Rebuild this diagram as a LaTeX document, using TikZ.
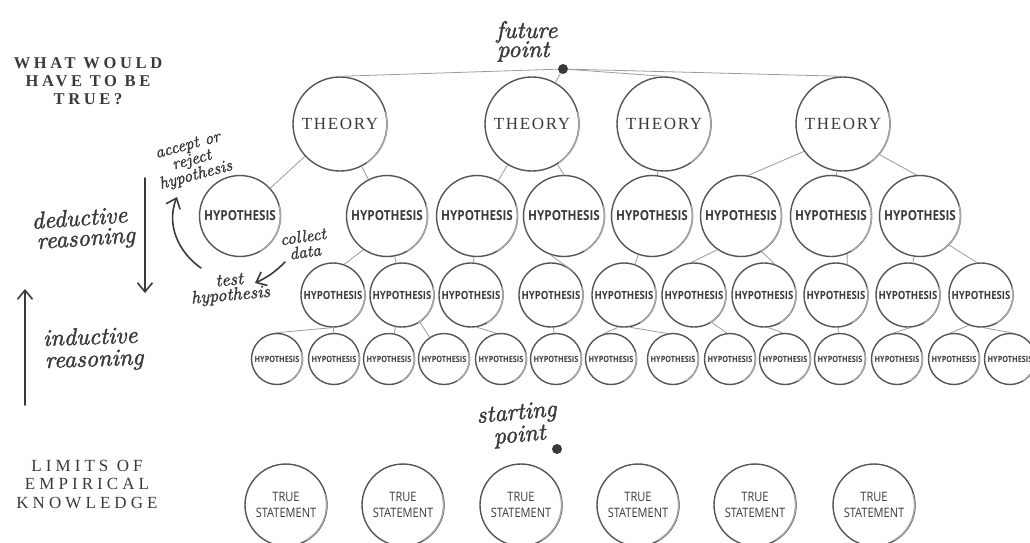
\documentclass[tikz,border=0pt]{standalone}
\usepackage{fontspec}
\usetikzlibrary{arrows.meta}

% Fonts: spaced serif capitals, a condensed sans for the circles, a heavier italic for the notes
\newfontfamily\titlefont[LetterSpace=22]{Liberation Serif}
\newfontfamily\limitsfont[LetterSpace=24]{Liberation Serif}
\newfontfamily\theoryfont[LetterSpace=10]{Liberation Serif}
\newfontfamily\condfont[FakeStretch=0.85]{Open Sans}
\newfontfamily\handfont{lmroman10-italic}[Extension=.otf, FakeBold=1.6]

\definecolor{ink}{HTML}{3A3A3A}
\definecolor{ringc}{HTML}{555555}
\definecolor{sheenc}{HTML}{A8A8A8}
\definecolor{linkc}{HTML}{9C9C9C}

\begin{document}
\begin{tikzpicture}[x=1pt,y=-1pt,
  ring/.style={circle, draw=ringc, line width=1.4pt, inner sep=0pt, text=ink},
  theory/.style={ring, minimum size=94pt, font=\theoryfont\fontsize{17}{17}\selectfont},
  hypA/.style={ring, minimum size=81pt, font=\condfont\bfseries\fontsize{13.8}{14}\selectfont},
  hypB/.style={ring, minimum size=64pt, font=\condfont\bfseries\fontsize{11.3}{11.5}\selectfont},
  hypC/.style={ring, minimum size=51pt, font=\condfont\bfseries\fontsize{8.6}{8.7}\selectfont},
  truth/.style={ring, minimum size=82pt, align=center, font=\condfont\fontsize{13}{16}\selectfont},
  link/.style={draw=linkc, line width=0.8pt},
  hand/.style={text=ink, inner sep=0pt, font=\handfont\fontsize{24}{22}\selectfont},
  handsmall/.style={text=ink, inner sep=0pt, align=center, font=\handfont\fontsize{17}{15.5}\selectfont},
  pen/.style={draw=ink, line width=1.6pt, line cap=round, -{Straight Barb[length=9pt,width=15pt,line width=1.6pt]}},
  dot/.style={circle, fill=ink, inner sep=0pt, minimum size=10pt},
  sheen/.style={draw=sheenc, line width=1.4pt},
  sidetitle/.style={text=ink, align=center, inner sep=0pt},
]
\fill[white] (0,0) rectangle (1030,542);
\useasboundingbox (0,0) rectangle (1030,542);

% side titles
\node[sidetitle, font=\titlefont\bfseries\fontsize{16.5}{18}\selectfont] (whattrue) at (88,81) {WHAT WOULD\\HAVE TO BE\\TRUE?};
\node[sidetitle, font=\limitsfont\fontsize{17}{18.5}\selectfont] (limits) at (87,484) {LIMITS OF\\EMPIRICAL\\KNOWLEDGE};

% future point and theories
\node[dot] (fp) at (563,69) {};
\node[hand, anchor=base west] (fut1) at (496,38) {future};
\node[hand, anchor=base west] (fut2) at (497,57) {point};

\node[theory] (t1) at (340,124) {THEORY};
\node[theory] (t2) at (532,124) {THEORY};
\node[theory] (t3) at (664,124) {THEORY};
\node[theory] (t4) at (843,124) {THEORY};

% first hypothesis row
\node[hypA] (a1) at (240,216) {HYPOTHESIS};
\node[hypA] (a2) at (387,216) {HYPOTHESIS};
\node[hypA] (a3) at (477,216) {HYPOTHESIS};
\node[hypA] (a4) at (564,216) {HYPOTHESIS};
\node[hypA] (a5) at (652,216) {HYPOTHESIS};
\node[hypA] (a6) at (741,216) {HYPOTHESIS};
\node[hypA] (a7) at (831,216) {HYPOTHESIS};
\node[hypA] (a8) at (920,216) {HYPOTHESIS};

% second hypothesis row
\foreach \n/\x in {b1/333,b2/402,b3/471,b4/551,b5/624,b6/694,b7/764,b8/836,b9/908,b10/981}
  \node[hypB] (\n) at (\x,295) {HYPOTHESIS};

% third hypothesis row
\foreach \n/\x in {c1/277,c2/334,c3/389,c4/444,c5/501,c6/556,c7/611,c8/673,c9/730,c10/785,c11/840,c12/897,c13/954,c14/1010}
  \node[hypC] (\n) at (\x,359) {HYPOTHESIS};

% starting point and true statements
\node[dot] (sp) at (557,449) {};
\node[hand, anchor=base west, rotate=5] (start1) at (477,423) {starting};
\node[hand, anchor=base west, rotate=5] (start2) at (494,444) {point};
\foreach \n/\x in {s1/286,s2/403,s3/521,s4/638,s5/755,s6/874}
  \node[truth] (\n) at (\x,505) {TRUE\\STATEMENT};

% lighter strokes on the right of each circle
\foreach \n in {t1,t2,t3,t4}
  \draw[sheen] (\n) ++(-55:47pt) arc[start angle=-55, delta angle=70, radius=47pt];
\foreach \n in {a1,a2,a3,a4,a5,a6,a7,a8,s1,s2,s3,s4,s5,s6}
  \draw[sheen] (\n) ++(-60:40.5pt) arc[start angle=-60, delta angle=75, radius=40.5pt];
\foreach \n in {b1,b2,b3,b4,b5,b6,b7,b8,b9,b10}
  \draw[sheen] (\n) ++(-60:32pt) arc[start angle=-60, delta angle=75, radius=32pt];
\foreach \n in {c1,c2,c3,c4,c5,c6,c7,c8,c9,c10,c11,c12,c13,c14}
  \draw[sheen] (\n) ++(-60:25.5pt) arc[start angle=-60, delta angle=75, radius=25.5pt];

% future point to theories
\draw[link] (fp) -- (t1.north);
\draw[link] (fp) -- (t2);
\draw[link] (fp) -- (t3.north);
\draw[link] (fp) -- (t4.north);

% theories to hypotheses
\draw[link] (t1) -- (a1);
\draw[link] (t1) -- (a2);
\draw[link] (t2) -- (a3);
\draw[link] (t2) -- (a4.north);
\draw[link] (t3) -- (a5);
\draw[link] (t4.215) -- (a6.80);
\draw[link] (t4) -- (a7);
\draw[link] (t4.-40) -- (a8.95);

% first row to second row
\draw[link] (a2.235) -- (b1.70);
\draw[link] (a2) -- (b2);
\draw[link] (a3) -- (b3);
\draw[link] (a4.251) -- (b4.45);
\draw[link] (a5) -- (b5);
\draw[link] (a6.235) -- (b6.95);
\draw[link] (a6.-60) -- (b7.70);
\draw[link] (a7.-67) -- (b8.70);
\draw[link] (a8) -- (b9);
\draw[link] (a8.-45) -- (b10.97);

% second row to third row
\draw[link] (b1.-92) -- (c1.95);
\draw[link] (b1) -- (c2);
\draw[link] (b2) -- (c3);
\draw[link] (b2) -- (c4);
\draw[link] (b3.-80) -- (c5.100);
\draw[link] (b4) -- (c6);
\draw[link] (b5.-100) -- (c7.110);
\draw[link] (b5.-80) -- (c8.103);
\draw[link] (b6.-57) -- (c9.97);
\draw[link] (b7.-83) -- (c10.95);
\draw[link] (b8) -- (c11);
\draw[link] (b9.-86) -- (c12.99);
\draw[link] (b10.-112) -- (c13.99);
\draw[link] (b10.-86) -- (c14.83);

% reasoning notes and arrows
\node[hand, anchor=base west, rotate=4] (ded1) at (32,229) {deductive};
\node[hand, anchor=base west, rotate=4] (ded2) at (37,249) {reasoning};
\node[hand, anchor=base west, rotate=2] (ind1) at (43,346) {inductive};
\node[hand, anchor=base west, rotate=2] (ind2) at (45,368) {reasoning};

\coordinate (dedtop) at (145,178);
\coordinate (dedbot) at (145,293);
\draw[pen] (dedtop) -- (dedbot);
\coordinate (indbot) at (25,405);
\coordinate (indtop) at (25,289);
\draw[pen] (indbot) -- (indtop);

% hypothesis testing cycle
\node[handsmall, rotate=15] (accept) at (192,161) {accept or\\reject\\hypothesis};
\node[handsmall, rotate=8] (collect) at (304,244) {collect\\data};
\node[handsmall, rotate=5, font=\handfont\fontsize{18}{15}\selectfont] (testh) at (230,289) {test\\hypothesis};

\coordinate (cycA) at (201,268);
\coordinate (cycB) at (177,197);
\draw[pen] (cycA) .. controls (178,252) and (166,224) .. (cycB);
\coordinate (colA) at (285,262);
\coordinate (colB) at (255,283);
\draw[pen] (colA) to[bend left=10] (colB);
\end{tikzpicture}
\end{document}
